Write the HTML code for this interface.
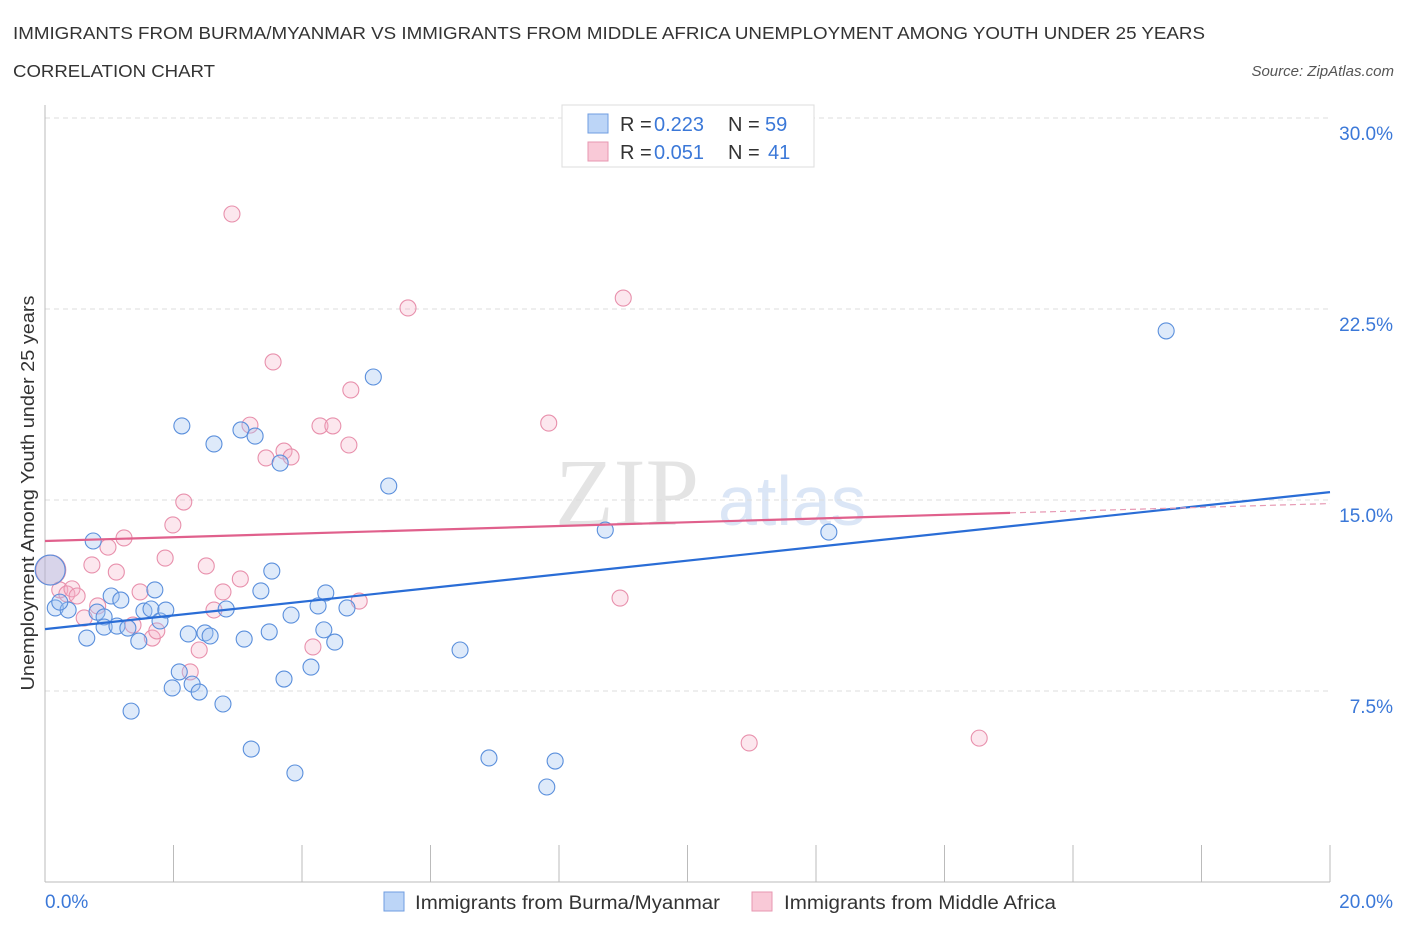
<!DOCTYPE html>
<html><head><meta charset="utf-8"><style>
body{margin:0;background:#fff;font-family:"Liberation Sans",sans-serif}
</style></head><body>
<svg id="c" width="1406" height="930" xmlns="http://www.w3.org/2000/svg">
<text x="13" y="39" font-size="17.5" fill="#333" textLength="1192" lengthAdjust="spacingAndGlyphs">IMMIGRANTS FROM BURMA/MYANMAR VS IMMIGRANTS FROM MIDDLE AFRICA UNEMPLOYMENT AMONG YOUTH UNDER 25 YEARS</text>
<text x="13" y="77" font-size="17.5" fill="#333" textLength="202" lengthAdjust="spacingAndGlyphs">CORRELATION CHART</text>
<text x="1394" y="76" font-size="15" fill="#555" font-style="italic" text-anchor="end">Source: ZipAtlas.com</text>
<text x="555" y="525" font-size="96" fill="#e4e4e4" font-family="Liberation Serif">ZIP</text>
<text x="718" y="525" font-size="70" fill="#dbe6f6">atlas</text>
<text transform="translate(34,493) rotate(-90)" font-size="18" fill="#333" text-anchor="middle" textLength="395" lengthAdjust="spacingAndGlyphs">Unemployment Among Youth under 25 years</text>
<g id="grid"></g><g id="axes"></g><g id="pts"></g><g id="lines"></g>
<g>
<rect x="562" y="105" width="252" height="62" fill="#fff" stroke="#ddd"/>
<rect x="588" y="114" width="20" height="19" fill="#bcd5f7" stroke="#6f9de0"/>
<rect x="588" y="142" width="20" height="19" fill="#f9c9d7" stroke="#e797b1"/>
<g font-size="20" fill="#333">
<text x="620" y="131">R =</text><text x="654" y="131" fill="#3b78d8">0.223</text><text x="728" y="131">N =</text><text x="765" y="131" fill="#3b78d8">59</text></g>
<g font-size="20" fill="#333">
<text x="620" y="159">R =</text><text x="654" y="159" fill="#3b78d8">0.051</text><text x="728" y="159">N =</text><text x="768" y="159" fill="#3b78d8">41</text></g>
</g>
<g>
<rect x="384" y="892" width="20" height="19" fill="#bcd5f7" stroke="#6f9de0"/>
<text x="415" y="909" font-size="19" fill="#333" textLength="305" lengthAdjust="spacingAndGlyphs">Immigrants from Burma/Myanmar</text>
<rect x="752" y="892" width="20" height="19" fill="#f9c9d7" stroke="#e797b1"/>
<text x="784" y="909" font-size="19" fill="#333" textLength="272" lengthAdjust="spacingAndGlyphs">Immigrants from Middle Africa</text>
</g>
</svg>
<script>
const xTicks=[0,20];
const yTicks=[7.5,15,22.5,30];
const burmaX=[0.08,0.16,0.36,0.23,0.75,0.81,0.65,0.92,1.03,1.18,0.92,1.12,1.29,1.46,1.54,1.65,1.71,1.79,1.88,2.13,2.09,1.98,2.23,2.29,2.40,2.49,2.57,2.63,2.82,2.77,1.34,3.05,3.27,3.10,3.21,3.36,3.53,3.49,3.66,3.72,3.83,3.89,4.14,4.25,4.34,4.37,4.51,4.70,5.11,5.35,6.46,6.91,7.81,7.94,8.72,12.20,17.45];
const burmaY=[12.25,10.76,10.68,10.99,13.39,10.60,9.58,10.41,11.23,11.07,10.01,10.05,9.97,9.46,10.64,10.72,11.47,10.25,10.68,17.91,8.25,7.62,9.74,7.77,7.46,9.78,9.66,17.20,10.72,6.99,6.71,17.75,17.51,9.54,5.22,11.43,12.21,9.82,16.45,7.97,10.48,4.28,8.44,10.84,9.90,11.35,9.42,10.76,19.83,15.55,9.11,4.87,3.73,4.75,13.82,13.74,21.64];
const africaX=[0.09,0.23,0.34,0.42,0.50,0.61,0.73,0.82,0.98,1.11,1.23,1.37,1.48,1.67,1.74,1.87,1.99,2.16,2.26,2.40,2.51,2.63,2.77,2.91,3.04,3.19,3.44,3.55,3.72,3.83,4.17,4.28,4.48,4.73,4.76,4.89,5.65,7.84,8.95,9.00,10.96,14.54];
const africaY=[12.25,11.47,11.31,11.51,11.23,10.37,12.45,10.84,13.15,12.17,13.51,10.09,11.39,9.58,9.86,12.72,14.02,14.92,8.25,9.11,12.41,10.68,11.39,26.23,11.90,17.94,16.65,20.42,16.92,16.69,9.23,17.91,17.91,17.16,19.32,11.03,22.54,18.02,11.15,22.93,5.46,5.65];
const burmaTrend=[9.93,15.31];
const africaTrend=[13.39,14.86];
const africaSolidEnd=15.02;
const NS='http://www.w3.org/2000/svg';
const X=v=>45+v/20*1285, Y=v=>882-v/7.5*191;
function mk(t,a,p){const e=document.createElementNS(NS,t);for(const k in a)e.setAttribute(k,a[k]);document.getElementById(p).appendChild(e);return e;}
yTicks.forEach(t=>{
 const g=mk('line',{x1:45,x2:1330,y1:Y(t),y2:Y(t),stroke:'#ddd','stroke-dasharray':'5,4'},'grid');
 
 
 const l=mk('text',{x:1393,y:Y(t)+22,'font-size':19,fill:'#3b78d8','text-anchor':'end'},'axes');
 l.textContent=t.toFixed(1)+'%';
 
 
});
const ax=mk('line',{x1:45,x2:45,y1:105,y2:882,stroke:'#bbb'},'axes');


const bx=mk('line',{x1:45,x2:1330,y1:882,y2:882,stroke:'#bbb'},'axes');


for(let i=0;i<=10;i++){const t=mk('line',{x1:X(i*2),x2:X(i*2),y1:845,y2:882,stroke:'#bbb'},'axes');
 
 }
xTicks.forEach((t,i)=>{const l=mk('text',{x:i?1393:45,y:908,'font-size':19,fill:'#3b78d8','text-anchor':i?'end':'start'},'axes');
 l.textContent=t.toFixed(1)+'%';
 
 });
function pts(xs,ys,fill,bigFill,stroke,name){xs.forEach((x,i)=>{const c=mk('circle',{cx:X(x),cy:Y(ys[i]),r:i===0?15:8,fill:i===0?bigFill:fill,stroke:stroke,'stroke-width':1.1},'pts');
 
 });}
pts(africaX,africaY,'rgba(245,175,200,0.3)','rgba(245,175,200,0.25)','#e890ac','point-middle-africa');
pts(burmaX,burmaY,'rgba(160,195,240,0.35)','rgba(150,170,220,0.35)','#5a8fdc','point-burma');
const bl=mk('line',{x1:X(0),y1:Y(burmaTrend[0]),x2:X(20),y2:Y(burmaTrend[1]),stroke:'#2a6dd6','stroke-width':2.2},'lines');


const ay=v=>africaTrend[0]+(africaTrend[1]-africaTrend[0])*v/20;
const al=mk('line',{x1:X(0),y1:Y(ay(0)),x2:X(africaSolidEnd),y2:Y(ay(africaSolidEnd)),stroke:'#e0608c','stroke-width':2.2},'lines');


const ad=mk('line',{x1:X(africaSolidEnd),y1:Y(ay(africaSolidEnd)),x2:X(20),y2:Y(ay(20)),stroke:'#e79ab4','stroke-width':1.2,'stroke-dasharray':'6,4'},'lines');


</script>
</body></html>
